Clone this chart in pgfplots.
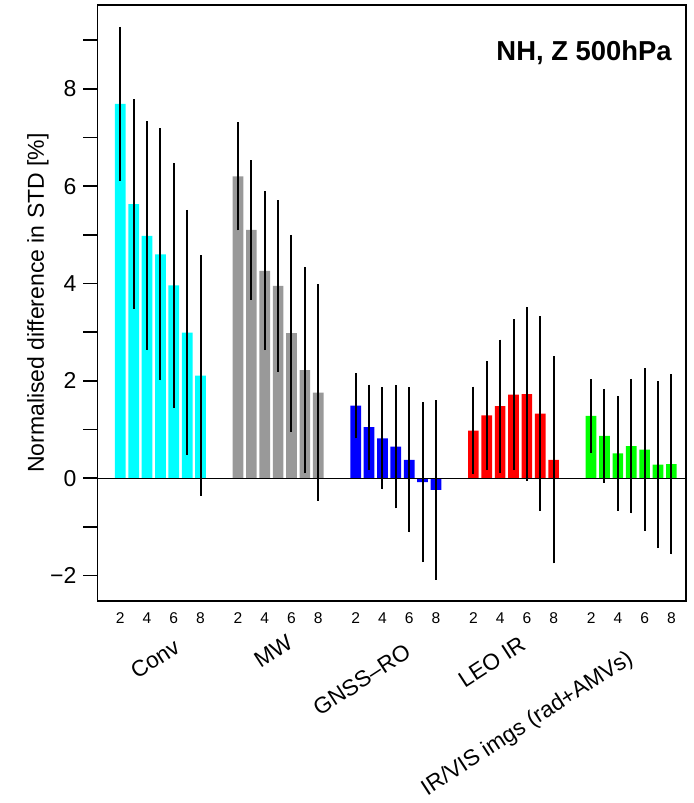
\documentclass[border=0pt]{standalone}
\usepackage{fontspec}
\setmainfont{Liberation Sans}
\usepackage{pgfplots}
\pgfplotsset{compat=1.18}
\usepackage{pgfplotstable}

\definecolor{cconv}{RGB}{0,255,255}
\definecolor{cmw}{RGB}{153,153,153}
\definecolor{cgnss}{RGB}{0,0,255}
\definecolor{cleo}{RGB}{255,0,0}
\definecolor{cirvis}{RGB}{0,255,0}

\pgfplotstableread{
x y e
0 7.69 1.58
1.25 5.63 2.15
2.5 4.98 2.35
3.75 4.60 2.59
5 3.96 2.52
6.25 2.99 2.52
7.5 2.11 2.47
}\conv
\pgfplotstableread{
x y e
11 6.20 1.11
12.25 5.10 1.43
13.5 4.26 1.63
14.75 3.95 1.76
16 2.98 2.02
17.25 2.22 2.12
18.5 1.76 2.22
}\mw
\pgfplotstableread{
x y e
22 1.49 0.67
23.25 1.05 0.875
24.5 0.82 1.05
25.75 0.65 1.27
27 0.38 1.49
28.25 -0.08 1.64
29.5 -0.24 1.84
}\gnss
\pgfplotstableread{
x y e
33 0.98 0.90
34.25 1.29 1.12
35.5 1.48 1.37
36.75 1.72 1.55
38 1.73 1.79
39.25 1.33 2.00
40.5 0.38 2.125
}\leo
\pgfplotstableread{
x y e
44 1.28 0.755
45.25 0.87 0.965
46.5 0.51 1.18
47.75 0.66 1.38
49 0.59 1.665
50.25 0.28 1.715
51.5 0.29 1.85
}\irvis

\begin{document}
\begin{tikzpicture}
\useasboundingbox (-48.85pt,-101pt) rectangle (298.15pt,300.5pt);
\begin{axis}[
  at={(0pt,0pt)}, anchor=south west,
  scale only axis, width=294.15pt, height=298pt,
  xmin=-2.11, xmax=52.87, ymin=-2.52, ymax=9.72,
  axis line style={line width=0.8pt},
  clip=false,
  tick align=outside,
  xtick pos=bottom, ytick pos=left,
  xtick={0,2.5,5,7.5,11,13.5,16,18.5,22,24.5,27,29.5,33,35.5,38,40.5,44,46.5,49,51.5},
  xticklabels={2,4,6,8,2,4,6,8,2,4,6,8,2,4,6,8,2,4,6,8},
  x tick style={draw=none},
  xticklabel style={font=\fontsize{7.8}{8.5}\selectfont, anchor=center, yshift=-1.5pt},
  ytick={-2,0,2,4,6,8},
  yticklabels={−2,0,2,4,6,8},
  minor ytick={-1,1,3,5,7,9},
  y tick style={black, line width=0.8pt},
  major tick length=7.15pt, minor tick length=7.15pt,
  yticklabel style={font=\fontsize{11.5}{13}\selectfont},
  ylabel={Normalised difference in STD [\%]},
  every axis y label/.style={at={(axis description cs:-0.1015,0.5)}, rotate=90, anchor=center, font=\fontsize{11.5}{13}\selectfont},
  error bars/error bar style={line width=1pt, black},
]
\addplot[ybar, bar width=1, bar shift=0pt, fill=cconv, draw=none,
  error bars/.cd, y dir=both, y explicit, error mark=none] table[x=x, y=y, y error=e] {\conv};
\addplot[ybar, bar width=1, bar shift=0pt, fill=cmw, draw=none,
  error bars/.cd, y dir=both, y explicit, error mark=none] table[x=x, y=y, y error=e] {\mw};
\addplot[ybar, bar width=1, bar shift=0pt, fill=cgnss, draw=none,
  error bars/.cd, y dir=both, y explicit, error mark=none] table[x=x, y=y, y error=e] {\gnss};
\addplot[ybar, bar width=1, bar shift=0pt, fill=cleo, draw=none,
  error bars/.cd, y dir=both, y explicit, error mark=none] table[x=x, y=y, y error=e] {\leo};
\addplot[ybar, bar width=1, bar shift=0pt, fill=cirvis, draw=none,
  error bars/.cd, y dir=both, y explicit, error mark=none] table[x=x, y=y, y error=e] {\irvis};
\addplot[black, line width=0.65pt, forget plot] coordinates {(-2.11,0) (52.87,0)};

\node[font=\fontsize{13.7}{15}\selectfont\bfseries] at (axis cs:43.34,8.73) {NH, Z 500hPa};

\begin{scope}[every node/.style={rotate=33, inner sep=0pt, font=\fontsize{11.3}{13}\selectfont}]
\node at (axis cs:3.24,-3.71) {Conv};
\node at (axis cs:14.30,-3.55) {MW};
\node at (axis cs:22.56,-4.14) {GNSS–RO};
\node at (axis cs:34.71,-3.77) {LEO IR};
\node at (axis cs:38.07,-5.05) {IR/VIS imgs (rad+AMVs)};
\end{scope}
\end{axis}
\end{tikzpicture}
\end{document}
